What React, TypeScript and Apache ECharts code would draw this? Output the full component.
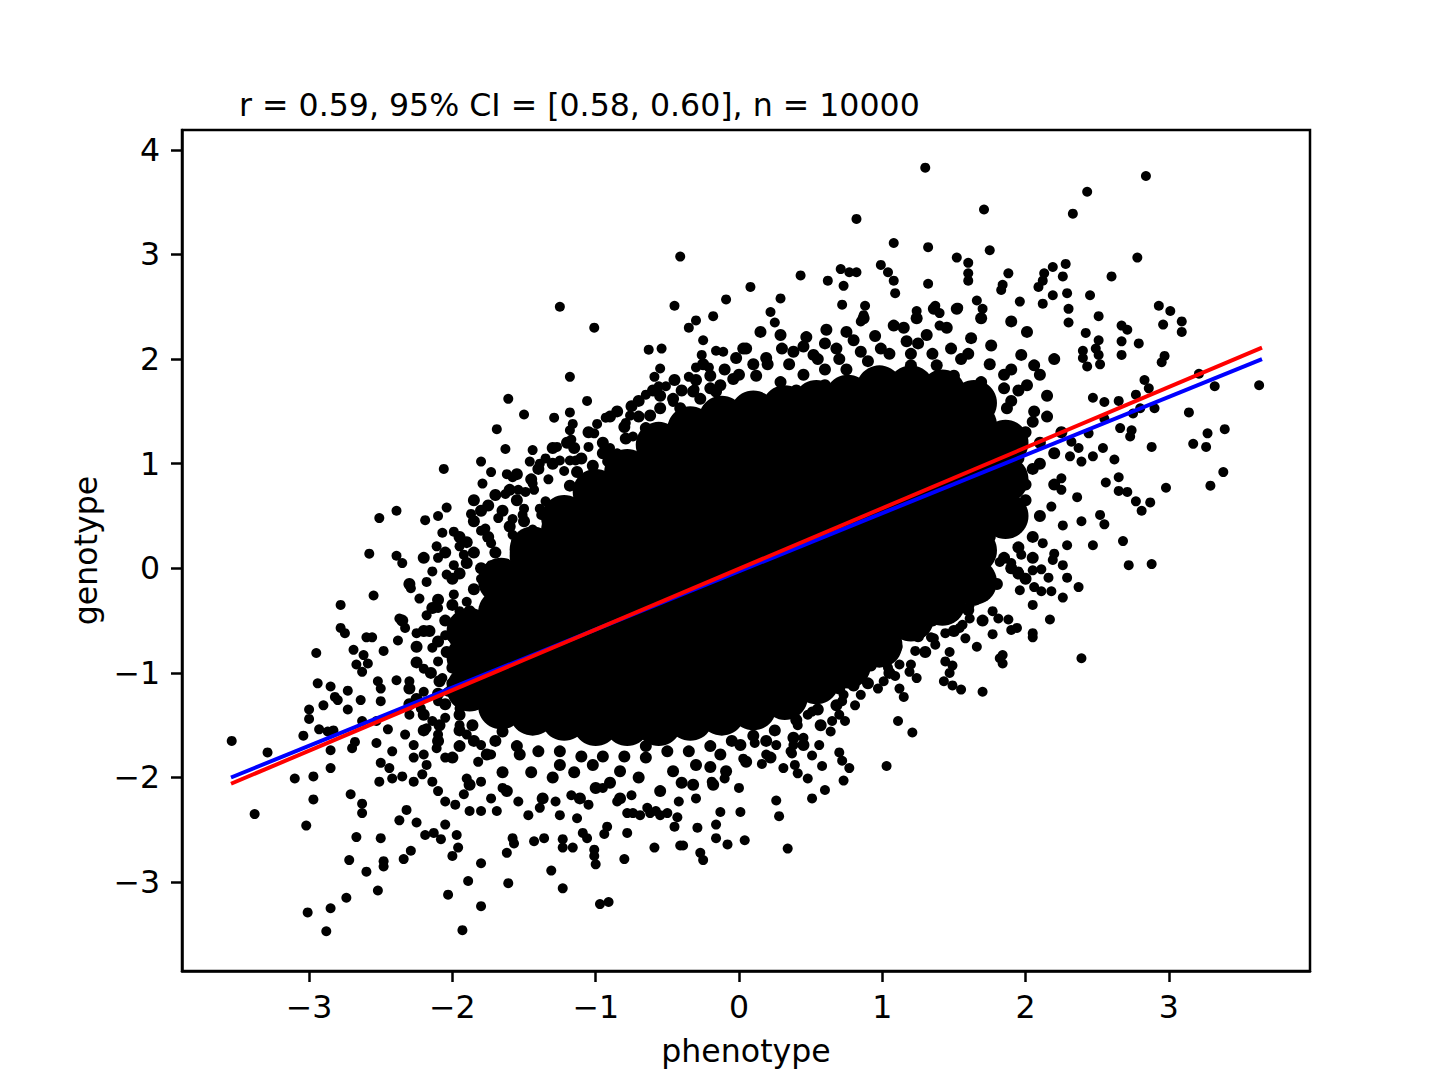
import React, { useEffect, useRef } from "react";
import * as echarts from "echarts";

const TITLE = "r = 0.59, 95% CI = [0.58, 0.60], n = 10000";
const X_NAME = "phenotype";
const Y_NAME = "genotype";
const X_TICKS = [-3, -2, -1, 0, 1, 2, 3];
const Y_TICKS = [-3, -2, -1, 0, 1, 2, 3, 4];

// Regression lines (endpoints)
const BLUE_LINE = [[-3.545, -2.0], [3.65, 2.0]];
const RED_LINE = [[-3.545, -2.06], [3.65, 2.11]];

// Fully saturated centre of the cloud (each blob = many overlapping points)
const CORE_POINTS = [
  [-1.88, -1.15], [-1.88, -0.85], [-1.88, -0.6],
  [-1.66, -1.32], [-1.66, -1.02], [-1.66, -0.72], [-1.66, -0.42], [-1.66, -0.12],
  [-1.44, -1.38], [-1.44, -1.08], [-1.44, -0.78], [-1.44, -0.48], [-1.44, -0.18], [-1.44, 0.12], [-1.44, 0.18],
  [-1.22, -1.43], [-1.22, -1.13], [-1.22, -0.83], [-1.22, -0.53], [-1.22, -0.23], [-1.22, 0.07], [-1.22, 0.37], [-1.22, 0.48],
  [-1.0, -1.48], [-1.0, -1.18], [-1.0, -0.88], [-1.0, -0.58], [-1.0, -0.28], [-1.0, 0.02], [-1.0, 0.32], [-1.0, 0.62], [-1.0, 0.73],
  [-0.78, -1.48], [-0.78, -1.18], [-0.78, -0.88], [-0.78, -0.58], [-0.78, -0.28], [-0.78, 0.02], [-0.78, 0.32], [-0.78, 0.62], [-0.78, 0.92],
  [-0.56, -1.48], [-0.56, -1.18], [-0.56, -0.88], [-0.56, -0.58], [-0.56, -0.28], [-0.56, 0.02], [-0.56, 0.32], [-0.56, 0.62], [-0.56, 0.92], [-0.56, 1.18],
  [-0.34, -1.43], [-0.34, -1.13], [-0.34, -0.83], [-0.34, -0.53], [-0.34, -0.23], [-0.34, 0.07], [-0.34, 0.37], [-0.34, 0.67], [-0.34, 0.97], [-0.34, 1.27], [-0.34, 1.33],
  [-0.12, -1.38], [-0.12, -1.08], [-0.12, -0.78], [-0.12, -0.48], [-0.12, -0.18], [-0.12, 0.12], [-0.12, 0.42], [-0.12, 0.72], [-0.12, 1.02], [-0.12, 1.32], [-0.12, 1.43],
  [0.10, -1.33], [0.10, -1.03], [0.10, -0.73], [0.10, -0.43], [0.10, -0.13], [0.10, 0.17], [0.10, 0.47], [0.10, 0.77], [0.10, 1.07], [0.10, 1.37], [0.10, 1.48],
  [0.32, -1.23], [0.32, -0.93], [0.32, -0.63], [0.32, -0.33], [0.32, -0.03], [0.32, 0.27], [0.32, 0.57], [0.32, 0.87], [0.32, 1.17], [0.32, 1.47], [0.32, 1.53],
  [0.54, -1.08], [0.54, -0.78], [0.54, -0.48], [0.54, -0.18], [0.54, 0.12], [0.54, 0.42], [0.54, 0.72], [0.54, 1.02], [0.54, 1.32], [0.54, 1.58],
  [0.76, -0.93], [0.76, -0.63], [0.76, -0.33], [0.76, -0.03], [0.76, 0.27], [0.76, 0.57], [0.76, 0.87], [0.76, 1.17], [0.76, 1.47], [0.76, 1.63],
  [0.98, -0.73], [0.98, -0.43], [0.98, -0.13], [0.98, 0.17], [0.98, 0.47], [0.98, 0.77], [0.98, 1.07], [0.98, 1.37], [0.98, 1.63], [0.98, 1.72],
  [1.20, -0.48], [1.20, -0.18], [1.20, 0.12], [1.20, 0.42], [1.20, 0.72], [1.20, 1.02], [1.20, 1.32], [1.20, 1.62], [1.20, 1.72],
  [1.42, -0.33], [1.42, -0.03], [1.42, 0.27], [1.42, 0.57], [1.42, 0.87], [1.42, 1.17], [1.42, 1.47], [1.42, 1.68],
  [1.64, -0.13], [1.64, 0.17], [1.64, 0.47], [1.64, 0.77], [1.64, 1.07], [1.64, 1.37], [1.64, 1.58],
  [1.86, 0.5], [1.86, 0.85], [1.86, 1.2],
];

// Dense clusters in the ring around the centre
const DENSE_POINTS = [
  [0.15, 2.26], [0.29, 2.23], [0.47, 2.21], [0.61, 2.28], [0.75, 2.26], [0.87, 2.39], [1.08, 2.32], [1.24, 2.39], [1.36, 2.48], [1.52, 2.48], [1.69, 2.39], [1.90, 2.36], [2.01, 2.26],
  [0.03, 2.10], [0.19, 2.01], [0.38, 2.07], [0.52, 2.04], [0.68, 2.10], [0.85, 2.07], [0.99, 2.10], [1.17, 2.17], [1.31, 2.23], [1.48, 2.10], [1.62, 2.20], [1.76, 2.13], [1.97, 2.04], [2.06, 1.94],
  [-0.20, 1.72], [-0.04, 1.81], [0.12, 1.84], [0.29, 1.78], [1.20, 1.94], [1.38, 1.94], [1.50, 1.84], [1.69, 1.78], [1.85, 1.72], [2.01, 1.75], [1.66, 1.62], [1.87, 1.53], [2.06, 1.50],
  [-0.55, 1.53], [-0.41, 1.53], [-0.27, 1.62], [-0.13, 1.75], [-0.02, 2.01], [0.05, 2.10], [-0.16, 1.69], [-0.65, 1.34], [-0.79, 1.24], [-0.90, 1.08], [-1.02, 0.98], [-1.13, 0.92], [-1.18, 0.79], [-0.62, 1.46], [-0.46, 1.62], [-0.32, 1.69], [-0.20, 1.84],
  [0.45, 1.85], [0.6, 1.9], [0.75, 1.9], [0.95, 1.85], [1.1, 1.8], [0.4, 1.7], [0.6, 1.75], [1.0, 1.7], [1.25, 1.7], [1.35, 1.6],
  [1.75, 1.35], [1.85, 1.2], [1.95, 1.05], [1.75, 1.0], [1.85, 0.8], [2.0, 0.65], [1.8, 0.6], [1.9, 0.4], [2.05, 0.3], [1.75, 0.3], [1.65, 0.15], [1.85, 0.1], [1.95, -0.05], [1.7, -0.1], [1.55, -0.2], [1.6, -0.4], [1.45, -0.35], [1.3, -0.5], [1.2, -0.6], [1.65, 0.5], [1.6, 0.9], [2.1, 1.0], [2.2, 0.8], [1.55, 1.55], [1.7, 1.6], [2.0, 1.3], [2.15, 1.45], [1.9, 1.6], [1.65, 1.2], [1.7, 0.75],
  [-2.0, -1.81], [-1.76, -1.78], [-1.53, -1.78], [-1.25, -1.88], [-1.02, -1.88], [-0.83, -1.94], [-0.65, -1.81], [-0.46, -1.94], [-0.30, -1.88], [-0.13, -1.78], [0.01, -1.69], [0.19, -1.65], [0.38, -1.62], [0.57, -1.50], [0.68, -1.31], [0.80, -1.12], [0.92, -0.93], [1.03, -0.76], [1.15, -0.60],
  [-1.88, -2.07], [-1.62, -2.13], [-1.37, -2.20], [-1.11, -2.20], [-0.83, -2.20], [-0.55, -2.13], [-0.32, -2.07], [-0.09, -1.94], [-0.18, -2.07], [0.22, -1.81], [0.45, -1.69],
  [-2.16, -0.60], [-2.04, -0.80], [-1.88, -0.93], [-2.09, -1.08], [-1.95, -1.24], [-2.09, -1.50], [-1.86, -1.50], [-1.65, -1.56], [-1.76, -0.60], [-1.88, -0.41], [-2.14, -0.38],
  [-2.2, 0.1], [-2.05, 0.15], [-1.95, 0.3], [-1.85, 0.45], [-1.75, 0.6], [-1.6, 0.75], [-1.45, 0.85], [-1.3, 1.0], [-1.15, 1.15], [-2.3, -0.15], [-2.1, -0.3], [-2.0, -0.1], [-1.9, 0.05], [-2.35, -0.5], [-2.2, -0.6], [-2.25, -0.9], [-2.1, -1.2], [-2.3, -1.3], [-2.2, -1.55], [-1.95, -1.4],
  [-1.2, 1.2], [-1.05, 1.3], [-0.9, 1.45], [-0.75, 1.55], [-1.4, 0.95], [-1.55, 0.9], [-0.95, 1.2], [-0.6, 1.7], [-0.45, 1.8],
  [-1.85, 0.65], [-1.7, 0.7], [-1.55, 0.65], [-1.8, 0.55], [-1.65, 0.55], [-1.9, 0.25], [-1.75, 0.3], [-1.6, 0.4], [-1.5, 0.45], [-1.85, 0.15], [-1.7, 0.15], [-1.55, 0.25], [-1.8, 0.0], [-1.95, -0.05], [-1.85, -0.2], [-1.7, -0.25], [-2.0, -0.35], [-1.9, -0.45], [-1.75, -0.5], [-2.05, -0.5],
  [-2.25, -0.75], [-2.1, -0.7], [-2.0, -0.65], [-2.15, -1.0], [-2.0, -0.95], [-2.3, -1.15], [-2.0, -1.1], [-2.2, -1.4], [-2.05, -1.3], [-1.95, -1.55], [-2.1, -1.65], [-1.95, -1.7], [-1.85, -1.65], [-2.25, -1.25],
  [-1.7, -1.65], [-1.55, -1.7], [-1.4, -1.75], [-1.25, -1.75], [-1.1, -1.8], [-0.95, -1.8], [-0.8, -1.8], [-0.65, -1.7], [-0.5, -1.75], [-0.35, -1.75], [-0.2, -1.7], [-0.05, -1.65], [0.1, -1.6], [0.25, -1.55], [0.4, -1.45], [0.55, -1.35],
  [-1.45, -1.95], [-1.3, -2.0], [-1.15, -1.95], [-0.9, -2.05], [-0.7, -2.0], [-0.4, -2.05], [-0.2, -1.9], [0.05, -1.85], [-1.65, -1.95], [-1.0, -2.1],
  [0.7, -1.15], [0.85, -1.0], [0.95, -0.85], [1.1, -0.75], [1.25, -0.65], [1.35, -0.5], [1.5, -0.45], [1.65, -0.3], [1.8, -0.15], [1.9, 0.0], [0.9, -1.1], [1.05, -1.0], [1.3, -0.8], [1.5, -0.6], [1.7, -0.5], [2.0, -0.1], [2.05, 0.1], [1.95, 0.2],
  [1.95, 0.45], [2.1, 0.5], [2.0, 0.8], [2.1, 1.2], [2.05, 1.4], [1.95, 1.7], [2.15, 1.65], [2.2, 1.1], [2.25, 1.3], [1.9, 0.9], [2.05, 0.95], [1.85, 1.85], [2.1, 1.85], [2.2, 2.0],
  [-1.1, 1.05], [-0.95, 1.1], [-0.8, 1.35], [-0.7, 1.45], [-0.55, 1.65], [-0.4, 1.7], [-0.3, 1.8], [-0.1, 1.9], [0.0, 1.85], [0.2, 1.95], [0.35, 1.95], [0.55, 2.0], [0.7, 2.0], [0.9, 1.98], [1.05, 2.05], [1.2, 2.05], [1.35, 2.05], [1.55, 2.0], [1.75, 1.95], [1.9, 1.9], [0.45, 2.12], [0.95, 2.22], [1.45, 2.3], [1.15, 2.3],
  [0.3, 2.1], [0.6, 2.15], [0.8, 2.18], [1.25, 2.15], [1.6, 2.05], [0.1, 1.95], [-0.25, 1.95], [-0.7, 1.6], [-0.85, 1.5], [-1.3, 1.15],
];

// Individually visible points
const POINTS = [
  [-0.41, 2.98], [-1.25, 2.50], [-0.45, 2.51], [-0.09, 2.57], [-1.01, 2.30], [-0.18, 2.41], [-0.35, 2.30], [-0.30, 2.37], [-0.25, 2.18], [-0.63, 2.09], [-0.54, 2.10], [-0.26, 2.04], [-0.16, 2.08], [-0.11, 2.07],
  [-1.18, 1.83], [-0.55, 1.91], [-0.59, 1.83], [-0.30, 1.92], [-0.21, 1.92], [-0.35, 1.83], [-0.56, 1.74], [-0.51, 1.74], [-0.31, 1.71], [-0.65, 1.66], [-1.61, 1.62], [-1.06, 1.60], [-0.46, 1.59],
  [-1.50, 1.47], [-1.29, 1.44], [-1.18, 1.49], [-0.93, 1.44], [-0.99, 1.38], [-0.76, 1.46], [-0.79, 1.39], [-1.16, 1.38], [-1.18, 1.32], [-1.17, 1.23], [-1.69, 1.33], [-1.01, 1.29], [-0.74, 1.26],
  [-1.63, 1.14], [-1.44, 1.13], [-1.27, 1.16], [-1.05, 1.16], [-0.90, 1.15], [-0.85, 1.10], [-0.92, 1.02], [-1.80, 1.02], [-1.46, 1.02], [-1.39, 1.00], [-1.35, 1.05], [-1.25, 1.03], [-1.18, 1.03], [-1.14, 1.03],
  [-2.06, 0.95], [-1.73, 0.92], [-1.22, 0.93], [-1.79, 0.81], [-1.62, 0.90], [-1.58, 0.87], [-1.33, 0.85], [-1.63, 0.71], [-1.54, 0.75], [-1.49, 0.73], [-1.44, 0.81], [-1.43, 0.75],
  [-2.51, 0.48], [-2.39, 0.55], [-2.19, 0.46], [-2.10, 0.50], [-2.04, 0.58], [-1.87, 0.52], [-1.68, 0.48], [-1.58, 0.47], [-2.07, 0.34], [-1.99, 0.35], [-1.80, 0.36], [-1.77, 0.38], [-1.73, 0.24], [-1.58, 0.32], [-1.49, 0.32], [-1.44, 0.37],
  [-2.11, 0.21], [-1.95, 0.21], [-1.38, 0.51], [-1.30, 0.45], [-1.35, 0.64], [-1.39, 0.57], [-1.50, 0.57], [-1.51, 0.51],
  [1.30, 3.83], [2.84, 3.75], [2.43, 3.60], [1.71, 3.43], [2.33, 3.39], [0.82, 3.34], [1.08, 3.11], [1.32, 3.07], [1.75, 3.04], [1.52, 2.97], [1.60, 2.92], [2.78, 2.97],
  [0.08, 2.69], [0.43, 2.80], [0.62, 2.75], [0.71, 2.86], [0.77, 2.83], [0.82, 2.83], [0.73, 2.70], [0.99, 2.90], [1.04, 2.83], [1.08, 2.75], [1.32, 2.72], [1.09, 2.63], [1.60, 2.82], [1.60, 2.75],
  [1.88, 2.82], [1.84, 2.71], [1.83, 2.66], [2.13, 2.82], [2.19, 2.88], [2.28, 2.91], [2.26, 2.79], [2.09, 2.69], [2.12, 2.75], [2.60, 2.79],
  [0.29, 2.58], [0.22, 2.45], [0.25, 2.35], [0.72, 2.52], [0.88, 2.51], [0.87, 2.42], [0.85, 2.36], [1.24, 2.46], [1.37, 2.51], [1.40, 2.44], [1.40, 2.32], [1.53, 2.49], [1.66, 2.56], [1.70, 2.48],
  [1.96, 2.55], [2.12, 2.53], [2.19, 2.61], [2.29, 2.63], [2.30, 2.48], [2.45, 2.61], [2.30, 2.35], [2.51, 2.41], [2.93, 2.51], [3.01, 2.46], [3.09, 2.36], [3.09, 2.26], [2.96, 2.33],
  [2.67, 2.32], [2.71, 2.28], [2.79, 2.15], [2.67, 2.17], [2.67, 2.04], [2.97, 2.03], [2.95, 1.97], [2.42, 2.25], [2.51, 2.18], [2.49, 2.10], [2.51, 2.04], [2.52, 1.95], [2.40, 2.08], [2.40, 2.01], [2.43, 1.93],
  [3.21, 1.86], [3.32, 1.74], [3.63, 1.75], [2.83, 1.80], [2.86, 1.72], [3.14, 1.49], [2.90, 1.53], [2.80, 1.53], [2.75, 1.48], [2.77, 1.66], [2.66, 1.34], [2.74, 1.32], [2.73, 1.26], [2.88, 1.16],
  [3.27, 1.29], [3.39, 1.33], [3.17, 1.19], [3.26, 1.16], [3.38, 0.92], [3.29, 0.79], [2.98, 0.77], [2.65, 0.87], [2.65, 0.74], [2.71, 0.73], [2.77, 0.64], [2.81, 0.55], [2.87, 0.63], [2.56, 0.82],
  [2.52, 0.51], [2.55, 0.42], [2.68, 0.26], [2.25, 0.86], [2.25, 0.75], [2.36, 0.68], [2.39, 0.45], [2.26, 0.41], [2.18, 0.59], [2.47, 0.22], [2.29, 0.22], [2.12, 0.24],
  [2.55, 1.59], [2.47, 1.63], [2.65, 1.60], [2.55, 1.43], [2.44, 1.29], [2.54, 1.15], [2.62, 1.04], [2.32, 1.21], [2.37, 1.15], [2.31, 1.07], [2.39, 1.02], [2.47, 1.07],
  [-3.54, -1.65], [-3.29, -1.76], [-3.10, -2.01], [-2.97, -1.99], [-3.38, -2.35], [-2.97, -2.21], [-3.02, -2.46], [-3.01, -3.29], [-2.88, -3.47], [-2.85, -3.25], [-2.74, -3.15],
  [-2.67, -2.57], [-2.72, -2.79], [-2.60, -2.90], [-2.52, -3.08], [-2.50, -2.58], [-2.48, -2.80], [-2.48, -2.85], [-2.34, -2.78], [-2.29, -2.70], [-2.37, -2.41], [-2.25, -2.43], [-2.32, -2.31],
  [-2.03, -3.12], [-1.89, -2.99], [-1.80, -3.23], [-1.93, -3.46], [-1.80, -2.82], [-1.61, -3.01], [-1.62, -2.72], [-1.58, -2.58], [-1.57, -2.63], [-2.00, -2.75], [-1.96, -2.67], [-1.97, -2.55], [-2.05, -2.45],
  [-2.19, -2.55], [-2.13, -2.53], [-2.08, -2.59], [-1.31, -2.89], [-1.23, -3.06], [-0.97, -3.21], [-0.91, -3.19], [-1.00, -2.83], [-1.01, -2.69], [-1.01, -2.75], [-0.80, -2.78],
  [-1.16, -2.67], [-1.23, -2.67], [-1.23, -2.59], [-1.43, -2.61], [-1.36, -2.58], [-1.06, -2.58], [-1.09, -2.53], [-0.78, -2.53], [-0.92, -2.47], [-0.94, -2.54], [-0.59, -2.67],
  [-0.41, -2.65], [-0.39, -2.65], [-0.27, -2.72], [-0.25, -2.79], [-0.16, -2.58], [-0.08, -2.64], [0.04, -2.60], [-0.29, -2.48], [-0.45, -2.47], [-0.43, -2.38], [-0.16, -2.45], [-0.13, -2.33],
  [-0.50, -2.34], [-0.58, -2.32], [-0.62, -2.34], [-0.78, -2.34], [-0.74, -2.34], [-0.69, -2.36],
  [-2.78, -0.35], [-2.55, -0.26], [-2.58, 0.14], [-2.39, 0.12], [-2.35, 0.05], [-2.78, -0.57], [-2.75, -0.62], [-2.95, -0.81], [-2.69, -0.78], [-2.62, -0.83], [-2.59, -0.91], [-2.67, -0.92], [-2.63, -0.99],
  [-2.60, -0.66], [-2.56, -0.66], [-2.48, -0.79], [-2.38, -0.69], [-2.94, -1.10], [-2.85, -1.13], [-2.90, -1.31], [-3.00, -1.35], [-3.00, -1.44], [-3.04, -1.60],
  [-2.73, -1.17], [-2.64, -1.26], [-2.73, -1.35], [-2.80, -1.26], [-2.82, -1.23], [-2.93, -1.54], [-2.87, -1.56], [-2.83, -1.55], [-2.85, -1.74], [-2.85, -1.91], [-2.68, -1.66], [-2.70, -1.72], [-2.53, -1.67],
  [-2.71, -2.16], [-2.63, -2.25], [-2.63, -2.34], [-2.51, -2.04], [-2.50, -1.86], [-2.42, -1.75], [-2.44, -1.91], [-2.42, -2.01], [-2.35, -1.99],
  [-2.52, -1.08], [-2.50, -1.15], [-2.50, -1.27], [-2.39, -1.07], [-2.30, -1.08], [-2.53, -1.46], [-2.45, -1.54], [-2.63, -1.46], [-2.33, -1.59], [-2.27, -1.69], [-2.30, -1.40],
  [-2.27, -1.81], [-2.21, -1.97], [-2.27, -2.04], [-2.14, -2.04], [-2.10, -2.13], [-2.05, -2.23], [-1.98, -2.26], [-2.20, -1.78], [-2.18, -1.88], [-2.11, -1.72], [-2.05, -1.81], [-2.10, -1.59], [-2.18, -1.53],
  [-2.29, -0.19], [-2.23, -0.29], [-2.18, -0.13], [-2.14, -0.03], [-2.10, 0.10], [-2.04, -0.06], [-1.99, 0.03], [-1.92, 0.13], [-2.37, -0.48], [-2.33, -0.57], [-2.25, -0.62], [-2.18, -0.45], [-2.10, -0.38], [-1.99, -0.25], [-1.95, -0.41], [-1.90, -0.32],
  [-2.14, -0.76], [-2.05, -0.64], [-1.97, -0.54], [-1.90, -0.73], [-1.82, -0.60], [-1.75, -0.38], [-1.69, -0.22], [-1.80, -0.10], [-1.73, 0.03], [-2.20, -0.96], [-2.10, -0.89], [-1.99, -0.83], [-1.92, -0.92], [-2.07, -1.05],
  [-2.20, -1.18], [-2.10, -1.27], [-2.03, -1.18], [-1.95, -1.34], [-2.22, -1.34], [-2.14, -1.46], [-2.05, -1.43], [-1.95, -1.50],
  [-1.90, -1.59], [-1.80, -1.69], [-1.82, -1.85], [-1.73, -1.78], [-1.90, -2.01], [-1.80, -2.04], [-1.73, -2.20], [-1.80, -2.32], [-1.69, -2.32], [-1.88, -2.32], [-1.92, -2.16],
  [-1.65, -2.10], [-1.54, -2.23], [-1.47, -2.36], [-1.39, -2.29], [-1.28, -2.23], [-1.17, -2.17], [-1.25, -2.36], [-1.13, -2.39], [-1.05, -2.26], [-0.95, -2.10], [-0.85, -2.23], [-0.75, -2.17], [-0.64, -2.29], [-0.55, -2.36],
  [-0.42, -2.23], [-0.30, -2.20], [-0.19, -2.04], [-0.10, -2.01], [0.00, -2.10], [0.01, -2.33],
  [2.72, 0.03], [2.88, 0.04], [2.39, -0.86], [1.70, -1.18], [1.66, -0.75], [1.84, -0.83], [1.82, -0.86], [1.84, -0.91], [2.17, -0.49], [2.05, -0.62], [2.05, -0.66], [1.90, -0.59], [1.94, -0.57], [1.77, -0.63],
  [1.77, -0.41], [1.81, -0.48], [1.88, -0.49], [2.05, -0.35], [1.96, -0.21], [2.06, -0.18], [2.11, -0.22], [2.18, -0.22], [2.26, -0.28], [2.37, -0.18],
  [2.16, -0.09], [2.29, -0.09], [2.26, 0.03], [2.19, 0.08], [2.05, -0.02], [2.11, -0.01], [1.95, -0.03], [1.90, 0.05], [1.82, 0.06], [1.97, 0.13], [2.20, 0.14],
  [1.61, -0.35], [1.56, -0.54], [1.54, -0.57], [1.61, -0.48], [1.58, -0.67], [1.44, -0.62], [1.36, -0.67], [1.37, -0.73], [1.34, -0.66],
  [1.47, -0.80], [1.44, -0.89], [1.49, -0.93], [1.47, -1.00], [1.43, -1.08], [1.49, -1.12], [1.55, -1.16], [1.23, -0.79], [1.24, -1.05], [1.19, -0.99], [1.12, -0.92], [1.20, -0.92],
  [1.03, -0.83], [1.04, -0.95], [1.09, -1.03], [1.01, -1.08], [0.97, -1.15], [1.12, -1.15], [1.15, -1.23], [1.11, -1.46], [1.21, -1.57], [1.03, -1.89],
  [0.82, -1.02], [0.77, -1.08], [0.85, -1.21], [0.81, -1.31], [0.73, -1.21], [0.70, -1.40], [0.74, -1.46], [0.65, -1.46], [0.64, -1.56], [0.72, -1.27],
  [0.70, -1.76], [0.72, -1.84], [0.77, -1.91], [0.73, -2.03], [0.60, -2.12], [0.51, -2.20], [0.58, -1.89], [0.51, -1.79], [0.56, -1.69], [0.48, -2.01], [0.41, -1.96], [0.39, -1.88], [0.31, -1.91], [0.37, -1.77], [0.38, -1.69], [0.45, -1.62], [0.41, -1.50], [0.48, -1.40], [0.51, -1.37],
  [0.26, -2.22], [0.28, -2.37], [0.34, -2.68], [0.03, -1.82], [0.16, -1.87], [0.19, -1.78], [0.11, -1.67], [0.26, -1.69], [0.36, -1.75],
];

const FONT = "DejaVu Sans";
const FONT_SIZE = 31.6;
const fmt = (v: number) => String(v).replace("-", "\u2212");

export default function App() {
  const ref = useRef<HTMLDivElement>(null);
  useEffect(() => {
    if (!ref.current) return;
    const chart = echarts.init(ref.current, undefined, { renderer: "svg" });
    const txt = { fontFamily: FONT, fontSize: FONT_SIZE, color: "#000" };
    const axisCommon = {
      type: "value",
      splitLine: { show: false },
      axisLine: { show: true, onZero: false, lineStyle: { color: "#000", width: 2.5 } },
    };
    chart.setOption({
      animation: false,
      backgroundColor: "#fff",
      title: {
        text: TITLE,
        left: 234,
        top: 84,
        textStyle: { ...txt, fontWeight: "normal" },
      },
      grid: {
        left: 182,
        top: 130,
        width: 1128,
        height: 841,
        show: true,
        borderColor: "#000",
        borderWidth: 2.5,
        backgroundColor: "transparent",
      },
      xAxis: {
        ...axisCommon,
        min: -3.887,
        max: 3.985,
        axisTick: { show: true, inside: false, length: 11, customValues: X_TICKS, lineStyle: { color: "#000", width: 2.5 } },
        axisLabel: { ...txt, customValues: X_TICKS, margin: 20, formatter: fmt },
        name: X_NAME,
        nameLocation: "middle",
        nameGap: 64,
        nameTextStyle: txt,
      },
      yAxis: {
        ...axisCommon,
        min: -3.85,
        max: 4.19,
        axisTick: { show: true, inside: false, length: 11, customValues: Y_TICKS, lineStyle: { color: "#000", width: 2.5 } },
        axisLabel: { ...txt, customValues: Y_TICKS, margin: 22, formatter: fmt },
        name: Y_NAME,
        nameLocation: "middle",
        nameGap: 80,
        nameTextStyle: txt,
      },
      series: [
        { type: "scatter", data: CORE_POINTS, symbolSize: 46, itemStyle: { color: "#000", opacity: 1 }, silent: true },
        { type: "scatter", data: DENSE_POINTS, symbolSize: 12, itemStyle: { color: "#000", opacity: 1 }, silent: true },
        { type: "scatter", data: POINTS, symbolSize: 10, itemStyle: { color: "#000", opacity: 1 }, silent: true },
        { type: "line", data: BLUE_LINE, symbol: "none", lineStyle: { color: "#0000ff", width: 4 }, silent: true, z: 5 },
        { type: "line", data: RED_LINE, symbol: "none", lineStyle: { color: "#ff0000", width: 4 }, silent: true, z: 6 },
      ],
    });
    return () => chart.dispose();
  }, []);
  return (
    <div
      ref={ref}
      style={{ position: "absolute", left: 0, top: 0, width: 1456, height: 1092, background: "#fff" }}
    />
  );
}
